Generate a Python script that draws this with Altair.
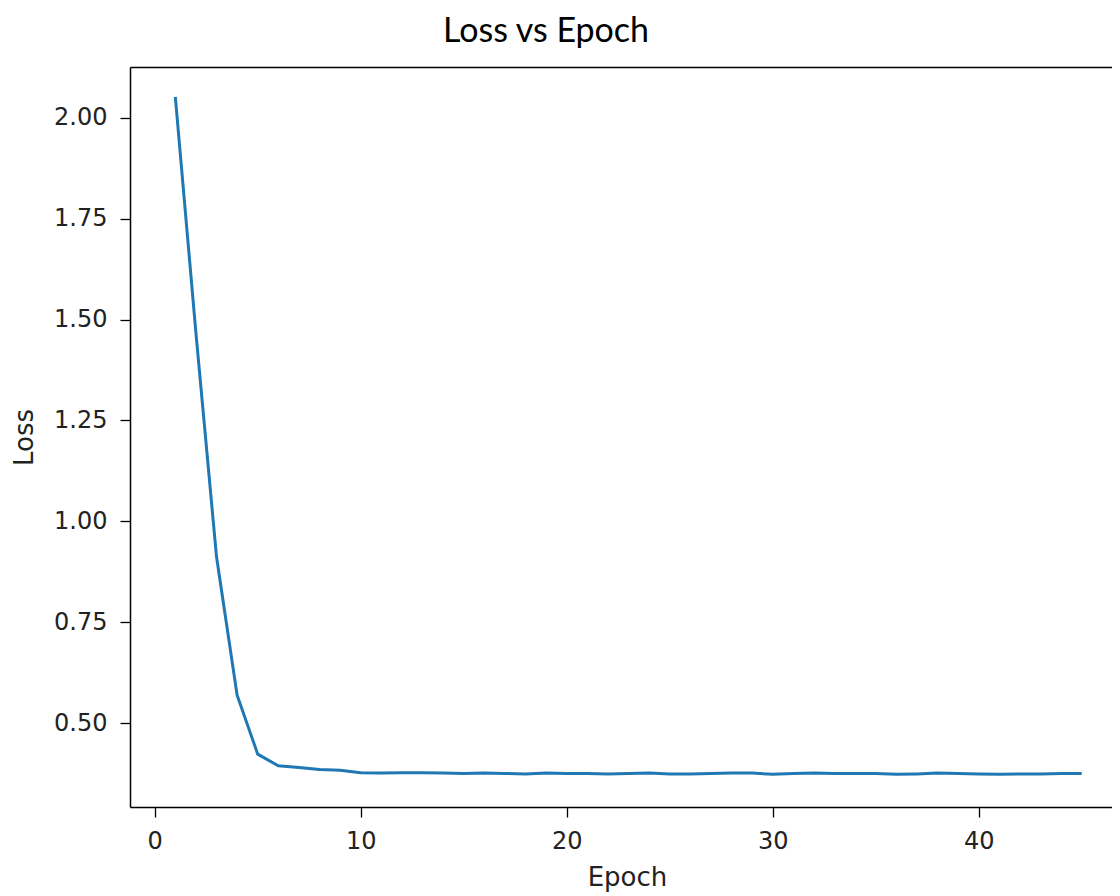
import altair as alt
import pandas as pd

epochs = list(range(1, 46))
loss = [2.052, 1.467, 0.912, 0.569, 0.423, 0.394, 0.390, 0.385, 0.383, 0.377,
        0.376, 0.377, 0.377, 0.376, 0.375, 0.376, 0.375, 0.374, 0.376, 0.375,
        0.375, 0.374, 0.375, 0.376, 0.374, 0.374, 0.375, 0.376, 0.376, 0.373,
        0.375, 0.376, 0.375, 0.375, 0.375, 0.373, 0.374, 0.376, 0.375, 0.374,
        0.373, 0.374, 0.374, 0.375, 0.375]
x_ticks = [0, 10, 20, 30, 40]
y_ticks = [0.5, 0.75, 1.0, 1.25, 1.5, 1.75, 2.0]

df = pd.DataFrame({"Epoch": epochs, "Loss": loss})

xscale = alt.Scale(domain=[-1.2, 46.47], nice=False, zero=False)
yscale = alt.Scale(domain=[0.292, 2.126], nice=False, zero=False)

line = alt.Chart(df).mark_line(color="#1f77b4", strokeWidth=3).encode(
    x=alt.X("Epoch:Q", scale=xscale,
            axis=alt.Axis(values=x_ticks, title="Epoch", grid=False, format="d",
                          orient="bottom", labelPadding=12, titlePadding=11,
                          titleX=497)),
    y=alt.Y("Loss:Q", scale=yscale,
            axis=alt.Axis(values=y_ticks, title="Loss", grid=False, format=".2f",
                          labelPadding=13, titlePadding=16)),
)

top_frame = alt.Chart(df).mark_line(opacity=0).encode(
    x=alt.X("Epoch:Q", scale=xscale,
            axis=alt.Axis(orient="top", labels=False, ticks=False, title=None,
                          grid=False, domain=True)),
    y=alt.Y("Loss:Q", scale=yscale),
)

chart = alt.layer(line, top_frame).resolve_axis(x="independent").properties(
    width=982, height=740,
    title=alt.TitleParams("Loss vs Epoch", anchor="middle", dx=-75, offset=18,
                          fontSize=34, font="Lato", fontWeight="normal", color="#000000"),
    autosize=alt.AutoSizeParams(type="none"),
    padding={"left": 122, "top": 59, "right": 0, "bottom": 88},
).configure_view(
    strokeWidth=0
).configure_axis(
    domain=True, domainColor="#000000", domainWidth=1.5,
    tickColor="#000000", tickSize=10, tickWidth=1.3,
    labelFont="DejaVu Sans", labelFontSize=24, labelColor="#222222",
    titleFont="DejaVu Sans", titleFontSize=26, titleFontWeight="normal", titleColor="#222222",
)

chart.save("out.html", embed_options={"renderer": "svg", "actions": False})
